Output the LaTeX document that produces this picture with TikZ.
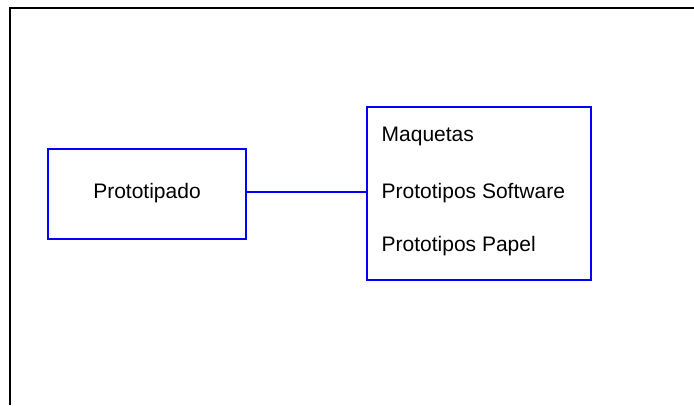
\documentclass[tikz,border=0pt]{standalone}
\usepackage{fontspec}
\setmainfont{Liberation Sans}
\begin{document}
\begin{tikzpicture}[x=1pt,y=-1pt,
  frameline/.style={draw=black,line width=2pt},
  boxstyle/.style={draw=blue,line width=2pt,inner sep=0pt},
  label/.style={font=\fontsize{21}{25}\selectfont,inner sep=0pt},
  link/.style={draw=blue,line width=1.5pt}]
  \useasboundingbox (0,0) rectangle (694,405);
  % outer frame (top and left edges)
  \coordinate (ftop) at (694,7.5);
  \coordinate (fcorner) at (9.5,7.5);
  \coordinate (fbottom) at (9.5,405);
  \draw[frameline] (ftop) -- (fcorner) -- (fbottom);
  % left box
  \node[boxstyle,minimum width=198pt,minimum height=90pt] (proto) at (147,194) {};
  \node[label] (protot) at (147,193) {Prototipado};
  % right box
  \node[boxstyle,minimum width=224pt,minimum height=173pt] (kinds) at (479,193) {};
  \node[label,anchor=west] (maq) at (381.5,136) {Maquetas};
  \node[label,anchor=west] (soft) at (381.5,193) {Prototipos Software};
  \node[label,anchor=west] (pap) at (381.5,246) {Prototipos Papel};
  % connector
  \draw[link] (proto.east |- 0,192) -- (kinds.west |- 0,192);
\end{tikzpicture}
\end{document}
